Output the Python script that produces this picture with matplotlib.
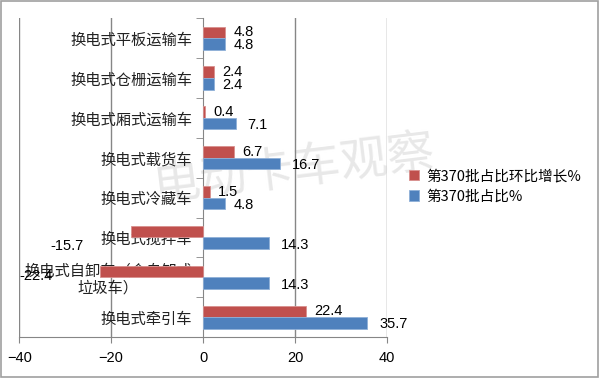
import numpy as np
import matplotlib
matplotlib.use('Agg')
import matplotlib.pyplot as plt

plt.rcParams['font.family'] = ['Noto Sans CJK SC', 'DejaVu Sans']

# data (bottom to top)
categories = ['换电式牵引车', '换电式自卸车（含自卸式\n垃圾车）', '换电式搅拌车', '换电式冷藏车',
              '换电式载货车', '换电式厢式运输车', '换电式仓栅运输车', '换电式平板运输车']
growth = [22.4, -22.4, -15.7, 1.5, 6.7, 0.4, 2.4, 4.8]
share = [35.7, 14.3, 14.3, 4.8, 16.7, 7.1, 2.4, 4.8]
growth_name = '第370批占比环比增长%'
share_name = '第370批占比%'

red = '#C0504D'
blue = '#4F81BD'
grid_c = '#868686'

fig = plt.figure(figsize=(6, 3.78), dpi=100)
ax = fig.add_axes([0.032, 0.108, 0.613, 0.844])
ax.patch.set_alpha(0)

y = np.arange(len(categories))
h = 0.29
ax.barh(y + h / 2, growth, height=h, color=red, edgecolor='#d9908e', linewidth=0.6,
        label=growth_name, zorder=3)
ax.barh(y - h / 2, share, height=h, color=blue, edgecolor='#8fb0d8', linewidth=0.6,
        label=share_name, zorder=3)

num_font = dict(family=['Liberation Sans', 'DejaVu Sans'], fontsize=10.5, color='black')
for yi, v in zip(y, growth):
    if v >= 0:
        ax.annotate(f'{v}', (v, yi + h / 2), xytext=(6, 0), textcoords='offset points',
                    ha='left', va='center', **num_font)
    else:
        ax.annotate(f'{v}', (v, yi + h / 2), xytext=(-34, -3 if v < -20 else -10),
                    textcoords='offset points', ha='right', va='center', **num_font)
for yi, v in zip(y, share):
    off = 6 if v < 6 else 8.5
    ax.annotate(f'{v}', (v, yi - h / 2), xytext=(off, -1), textcoords='offset points',
                ha='left', va='center', **num_font)

ax.set_xlim(-40, 40)
ax.set_ylim(-0.5, len(categories) - 0.5)
ax.set_xticks([-40, -20, 0, 20, 40])
ax.tick_params(axis='x', length=4, color=grid_c, labelsize=10.5, pad=6)
for lab in ax.get_xticklabels():
    lab.set_fontfamily(['Liberation Sans', 'DejaVu Sans'])

ax.spines['left'].set_position(('data', 0))
ax.spines['left'].set_color(grid_c)
ax.spines['bottom'].set_color(grid_c)
ax.spines['top'].set_visible(False)
ax.spines['right'].set_visible(False)
ax.set_yticks(y)
ax.set_yticklabels(categories, fontsize=11, color='#222222', linespacing=1.0)
for lab in ax.get_yticklabels():
    lab.set_multialignment('center')
ax.tick_params(axis='y', which='major', length=0, pad=8)
ax.set_yticks(np.arange(-0.5, len(categories), 1.0), minor=True)
ax.tick_params(axis='y', which='minor', length=5, color=grid_c)

for gx in [-40, -20, 20, 40]:
    ax.axvline(gx, color=grid_c, linewidth=1, zorder=1)

ax.legend(loc='center left', bbox_to_anchor=(1.06, 0.473), frameon=False, fontsize=10.5,
          handlelength=0.7, handleheight=0.7, handletextpad=0.5, labelspacing=0.45,
          borderaxespad=0, borderpad=0)

fig.text(0.49, 0.55, '电动卡车观察', fontsize=34, color='#e8e8e8', rotation=7,
         ha='center', va='center', zorder=-1)

fig.patches.append(plt.Rectangle((0.002, 0.003), 0.995, 0.994, transform=fig.transFigure,
                                 fill=False, edgecolor='#a0a0a0', linewidth=1.2))

fig.savefig('out.png', dpi=100)
